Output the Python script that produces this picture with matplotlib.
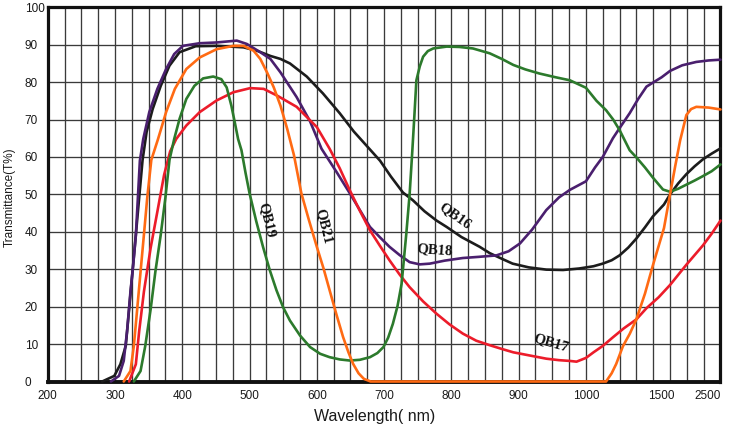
import numpy as np
import matplotlib
matplotlib.use('Agg')
import matplotlib.pyplot as plt
from matplotlib.ticker import FixedLocator, FixedFormatter

# ---------------- data ----------------
x_ticks = [200, 300, 400, 500, 600, 700, 800, 900, 1000, 1500, 2500]
x_tick_labels = [str(v) for v in x_ticks]
y_ticks = list(range(0, 101, 10))
y_tick_labels = [str(v) for v in y_ticks]

qb16_wl = [281, 299, 308, 316, 321, 326, 331, 336, 341, 347, 356, 368, 381, 396, 420,
           451, 491, 511, 531, 546, 560, 585, 609, 634, 655, 679, 694, 710, 728, 743,
           760, 778, 793, 815, 842, 857, 875, 891, 915, 941, 966, 990, 1050, 1111,
           1170, 1222, 1280, 1333, 1390, 1442, 1540, 1643, 1780, 1920, 2060, 2203,
           2350, 2500]
qb16_t = [0, 1.5, 4.6, 9.5, 19.3, 29.3, 39.2, 49.2, 59.2, 66.7, 72.8, 79, 84.4, 88, 89.6,
          89.7, 89.3, 88.4, 87, 86.2, 85, 81.5, 77, 71.7, 66.8, 62, 59, 54.8, 50.5, 48.4,
          45.5, 43, 41.3, 38.6, 36, 34.3, 32.8, 31.5, 30.5, 29.9, 29.8, 30.2, 30.8, 31.5,
          32.4, 33.7, 35.8, 38.2, 41.2, 44.1, 47.3, 50, 52.9, 55.4, 57.5, 59.4,
          60.9, 62.3]

qb18_wl = [294, 306, 313, 318, 323, 327, 331, 334, 337, 342, 351, 363, 376, 388, 401,
           426, 451, 481, 496, 516, 531, 546, 570, 590, 607, 630, 649, 665, 679, 694,
           708, 723, 738, 753, 768, 790, 817, 840, 867, 885, 902, 920, 941, 960, 976,
           1000, 1060, 1111, 1178, 1222, 1289, 1345, 1400, 1500, 1643, 1850, 2089,
           2300, 2500]
qb18_t = [0, 1.5, 5.5, 13.5, 24, 31, 39, 49, 59, 64.8, 72, 78.2, 83.5, 87.5, 89.7,
          90.4, 90.6, 91.1, 90.2, 88, 86.2, 82.6, 76, 69.5, 62.2, 55.8, 50.3, 45.5, 41.3, 38.5,
          36, 33.8, 31.9, 31.3, 31.5, 32.3, 33, 33.3, 33.7, 34.8, 36.9, 40.6, 45.8, 49.2, 51.2,
          53.5, 57.2, 60, 65, 67.7, 71.7, 75.5, 78.8, 81.3, 83, 84.5, 85.4,
          85.8, 86]

qb21_wl = [313, 323, 328, 333, 338, 343, 348, 354, 364, 376, 389, 406, 426, 451, 476,
           491, 506, 516, 526, 536, 546, 556, 566, 577, 588, 600, 610, 619, 629, 639,
           647, 654, 662, 670, 680, 1133, 1170, 1200, 1244, 1290, 1333, 1390, 1442,
           1540, 1643, 1730, 1814, 1920, 2000, 2089, 2300, 2500]
qb21_t = [0, 2.8, 9.5, 19.3, 29.3, 39.2, 49.2, 59.2, 64.8, 72, 78.2, 83.5, 86.6, 88.8, 89.7,
          89.7, 88.4, 86.2, 82.6, 78.6, 73.7, 67.5, 60.5, 50.3, 43.3, 36, 30.2, 24.4, 18, 11.9,
          7.8, 4.7, 2.2, 0.7, 0, 0, 2.2, 4.7, 9.4, 12.8, 16.6, 23.5, 31,
          41, 50, 57.5, 64.4, 71.2, 72.8, 73.4, 73.2, 72.7]

qb19_wl = [328, 338, 345, 353, 360, 368, 375, 381, 388, 396, 406, 418, 431, 446, 458,
           466, 473, 478, 483, 488, 494, 500, 510, 520, 530, 540, 550, 560, 575, 590,
           605, 619, 634, 649, 664, 679, 690, 699, 706, 713, 720, 726, 733, 738, 742,
           745, 748, 753, 758, 765, 773, 793, 812, 832, 857, 875, 892, 910, 931, 955,
           976, 1000, 1070, 1133, 1180, 1222, 1289, 1333, 1390, 1442, 1523, 1643,
           1780, 1920, 2060, 2203, 2350, 2500]
qb19_t = [0, 2.8, 9.5, 19.3, 29.3, 39.2, 49.2, 59.2, 64.8, 70.2, 75.5, 79, 81, 81.5, 80.8,
          78.6, 73.7, 69.3, 64.8, 61.8, 55.8, 50.3, 42.8, 36, 29.8, 24.4, 19.8, 16.3, 12.3, 9.2,
          7.4, 6.5, 5.9, 5.6, 5.8, 6.5, 7.6, 9.2, 11.7, 15.4, 20.2, 26.1, 39.5, 50.2, 61.8,
          71, 80.5, 84.2, 86.8, 88.3, 89, 89.5, 89.4, 89, 87.7, 86.2, 84.6, 83.4, 82.3, 81.3,
          80.5, 78.5, 75, 72.5, 70, 67.2, 61.8, 59.9, 57.2, 54.5, 51.3, 50.7,
          51.5, 52.6, 53.7, 54.9, 56.2, 58]

qb17_wl = [321, 331, 336, 343, 353, 363, 373, 382, 391, 406, 426, 451, 476, 501, 521,
           541, 570, 600, 619, 634, 649, 664, 679, 694, 708, 723, 738, 758, 778, 797,
           817, 837, 857, 875, 892, 915, 941, 960, 976, 986, 1000, 1050, 1111, 1178,
           1250, 1333, 1400, 1480, 1643, 1920, 2203, 2350, 2500]
qb17_t = [0, 4.6, 13.5, 24, 35.7, 45.4, 55.2, 61.5, 64.8, 68.4, 72, 75.1, 77.3, 78.4, 78.2,
          76.4, 73.4, 68, 62.2, 57, 51.1, 45.6, 40.4, 36.2, 32.4, 28.6, 25.2, 21.4, 18.1, 15.3,
          12.8, 10.9, 9.7, 8.7, 7.8, 7, 6.1, 5.7, 5.5, 5.3, 6.3, 7.8, 9.5, 11.8,
          14.2, 16.6, 19.6, 22.5, 25.8, 31.2, 36.4, 39.5, 43]

series = [
    ("QB16", qb16_wl, qb16_t, "#1c1c1c"),
    ("QB18", qb18_wl, qb18_t, "#4a1f6e"),
    ("QB17", qb17_wl, qb17_t, "#ec1c2a"),
    ("QB19", qb19_wl, qb19_t, "#2c7a2c"),
    ("QB21", qb21_wl, qb21_t, "#ff6a13"),
]

# curve labels: text, wavelength, T, rotation
curve_labels = [
    ("QB19", 526, 43.1, -76),
    ("QB21", 610, 41.5, -76),
    ("QB16", 805, 44.2, -35),
    ("QB18", 775, 35.3, -4),
    ("QB17", 948, 10.3, -16),
]

# ---------------- axis mapping (piecewise wavelength scale) ----------------
LAM = np.array([-10000., 200., 1000., 1500., 2500., 100000.])
U = np.array([(-10000. - 200.) / 25., 0., 32., 36.5, 40., 40. + (100000. - 2500.) * 3.5 / 1000.])


def fwd(x):
    return np.interp(np.asarray(x, dtype=float), LAM, U)


def inv(u):
    return np.interp(np.asarray(u, dtype=float), U, LAM)


plt.rcParams['font.family'] = ['Liberation Sans', 'DejaVu Sans']

fig = plt.figure(figsize=(7.3, 4.32), dpi=100)
fig.patch.set_facecolor('white')
ax = fig.add_axes([47.7 / 730, 50.5 / 432, (720.5 - 47.7) / 730, (381.5 - 7.3) / 432])
ax.set_xscale('function', functions=(fwd, inv))
ax.set_xlim(200, 2500)
ax.set_ylim(0, 100)

ax.xaxis.remove_overlapping_locs = False
ax.xaxis.set_major_locator(FixedLocator(x_ticks))
ax.xaxis.set_major_formatter(FixedFormatter(x_tick_labels))
ax.xaxis.set_minor_locator(FixedLocator(inv(np.arange(0, 41))))
ax.yaxis.set_major_locator(FixedLocator(y_ticks))
ax.yaxis.set_major_formatter(FixedFormatter(y_tick_labels))

ax.grid(which='minor', axis='x', color='#3a3a3a', linewidth=0.95)
ax.grid(which='major', axis='y', color='#3a3a3a', linewidth=0.95)
ax.grid(which='major', axis='x', visible=False)
ax.set_axisbelow(True)

ax.tick_params(which='both', length=0)
ax.tick_params(axis='x', which='major', labelsize=8.5, pad=6, labelcolor='#1a1a1a')
ax.tick_params(axis='y', which='major', labelsize=8.5, pad=16.5, labelcolor='#1a1a1a')
for lbl in ax.get_yticklabels():
    lbl.set_horizontalalignment('left')
xl = ax.get_xticklabels()
xl[-1].set_horizontalalignment('right')
for lbl in xl[:-1]:
    lbl.set_horizontalalignment('center')

for s in ax.spines.values():
    s.set_linewidth(2.3)
    s.set_color('#111111')
ax.spines['bottom'].set_linewidth(2.8)

for name, wl, t, col in series:
    ax.plot(wl, t, color=col, linewidth=1.9, solid_joinstyle='round',
            solid_capstyle='round', zorder=3, clip_on=False)

for txt, wl, t, rot in curve_labels:
    ax.text(wl, t, txt, rotation=rot, ha='center', va='center',
            rotation_mode='anchor', fontsize=10.5, fontweight='bold',
            family=['Liberation Serif', 'DejaVu Serif'], color='#111111', zorder=4)

fig.text(375 / 730, 1 - 417 / 432, 'Wavelength( nm)', ha='center', va='center',
         fontsize=11.5, color='#1a1a1a')
fig.text(10 / 730, 1 - 197 / 432, 'Transmittance(T%)', ha='center', va='center',
         rotation=90, fontsize=8.5, color='#1a1a1a')

fig.savefig('out.png', dpi=100, facecolor='white')
